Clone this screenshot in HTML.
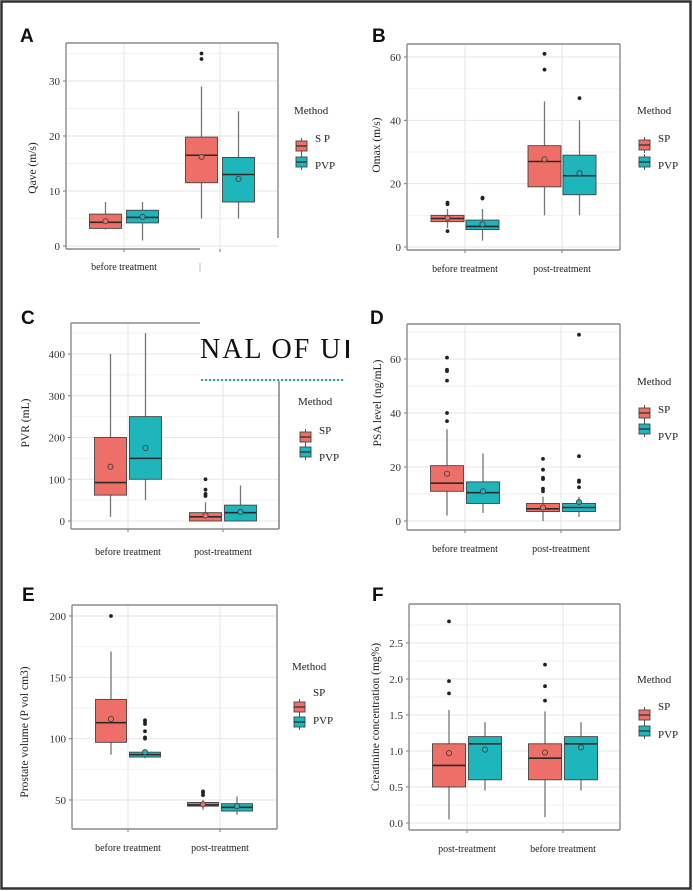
<!DOCTYPE html>
<html><head><meta charset="utf-8">
<style>
html,body{margin:0;padding:0;background:#fff;}
svg{display:block;font-family:"Liberation Serif",serif;}
</style></head>
<body>
<svg id="fig" width="693" height="891" viewBox="0 0 693 891" xmlns="http://www.w3.org/2000/svg">
<rect x="0" y="0" width="693" height="891" fill="#fff"/>
<rect x="1.5" y="1.5" width="689" height="887" fill="none" stroke="#333" stroke-width="2.5"/>
</svg>
<script>
// ---- Data (stats: [lowWhisker, q1, median, q3, highWhisker, mean]) ----
const aCategories = ["before treatment", "post-treatment"];
const aSP = [[3, 3.2, 4.3, 5.8, 8, 4.5], [5, 11.5, 16.5, 19.8, 29, 16.2]];
const aPVP = [[1, 4.2, 5.2, 6.5, 8, 5.3], [5, 8, 13, 16.1, 24.5, 12.2]];
const aSPOut = [[], [34, 35]];
const aPVPOut = [[], []];
const aTicks = [0, 10, 20, 30];

const bCategories = ["before treatment", "post-treatment"];
const bSP = [[6, 8, 9, 10, 12, 9.2], [10, 19, 27, 32, 46, 27.7]];
const bPVP = [[2, 5.5, 6.5, 8.5, 12, 7.2], [10, 16.5, 22.5, 29, 40, 23.3]];
const bSPOut = [[5, 13.5, 14], [56, 61]];
const bPVPOut = [[15.3, 15.6], [47]];
const bTicks = [0, 20, 40, 60];

const cCategories = ["before treatment", "post-treatment"];
const cSP = [[10, 62, 92, 200, 400, 130], [0, 0, 10, 20, 45, 13]];
const cPVP = [[50, 100, 150, 250, 450, 175], [0, 0, 20, 38, 85, 22]];
const cSPOut = [[], [60, 65, 75, 100]];
const cPVPOut = [[], []];
const cTicks = [0, 100, 200, 300, 400];

const dCategories = ["before treatment", "post-treatment"];
const dSP = [[2, 11, 14, 20.5, 34, 17.5], [0, 3.5, 4.5, 6.5, 9, 5]];
const dPVP = [[3, 6.5, 10.5, 14.5, 25, 11], [1.5, 3.5, 5, 6.5, 9, 7]];
const dSPOut = [[37, 40, 52, 55.5, 56, 60.5], [11, 12, 15.5, 16, 19, 23]];
const dPVPOut = [[], [12.5, 14.5, 15, 24, 69]];
const dTicks = [0, 20, 40, 60];

const eCategories = ["before treatment", "post-treatment"];
const eSP = [[87, 97, 113, 132, 171, 116], [42, 45, 46, 48, 50, 46.5]];
const ePVP = [[84, 85, 87, 89, 90, 89], [38, 41, 44, 47, 53, 45]];
const eSPOut = [[200], [54, 56, 57]];
const ePVPOut = [[100, 101, 106, 112, 114, 115], []];
const eTicks = [50, 100, 150, 200];

const fCategories = ["post-treatment", "before treatment"];
const fSP = [[0.05, 0.5, 0.8, 1.1, 1.57, 0.97], [0.08, 0.6, 0.9, 1.1, 1.55, 0.98]];
const fPVP = [[0.45, 0.6, 1.1, 1.2, 1.4, 1.02], [0.45, 0.6, 1.1, 1.2, 1.4, 1.05]];
const fSPOut = [[1.8, 1.97, 2.8], [1.7, 1.9, 2.2]];
const fPVPOut = [[], []];
const fTicks = [0.0, 0.5, 1.0, 1.5, 2.0, 2.5];

const NS = "http://www.w3.org/2000/svg";
const svg = document.getElementById("fig");
const SPC = "#ee6f68", PVPC = "#1eb5bb";

function mk(tag, attrs, parent, text) {
  const e = document.createElementNS(NS, tag);
  for (const k in attrs) e.setAttribute(k, attrs[k]);
  if (text !== undefined) e.textContent = text;
  (parent || svg).appendChild(e);
  return e;
}

function panel(p) {
  const g = mk("g", {});
  
  
  const y = v => p.py0 + (v - p.v0) * (p.py1 - p.py0) / (p.v1 - p.v0);
  const step = p.ticks[1] - p.ticks[0];
  for (let i = -1; i < p.ticks.length + 1; i++) {
    const mv = p.ticks[0] + (i + 0.5) * step;
    const yy = y(mv);
    if (yy > p.top + 1 && yy < p.bottom - 1) mk("line", {x1: p.left, x2: p.right, y1: yy, y2: yy, stroke: "#f2f2f2", "stroke-width": 1}, g);
  }
  p.ticks.forEach(t => {
    const yy = y(t);
    const gl = mk("line", {x1: p.left, x2: p.right, y1: yy, y2: yy, stroke: "#e6e6e6", "stroke-width": 1}, g);
    
    
    mk("line", {x1: p.left - 3, x2: p.left, y1: yy, y2: yy, stroke: "#777", "stroke-width": 1}, g);
    const tl = mk("text", {x: p.left - 6, y: yy + 4, "text-anchor": "end", "font-size": 11, fill: "#333"}, g, p.fmt ? p.fmt(t) : String(t));
    
    
  });
  p.cats.forEach((c, i) => {
    const cx = p.catX[i];
    mk("line", {x1: cx, x2: cx, y1: p.top, y2: p.bottom, stroke: "#e6e6e6", "stroke-width": 1}, g);
    mk("line", {x1: cx, x2: cx, y1: p.bottom, y2: p.bottom + 3, stroke: "#777", "stroke-width": 1}, g);
    if (!(p.hideLabel && p.hideLabel[i])) {
      const xl = mk("text", {x: cx, y: p.xlabY, "text-anchor": "middle", "font-size": 10, fill: "#222"}, g, c);
      
      
    }
  });
  const series = [[p.sp, p.spOut, SPC, -1, "sp"], [p.pvp, p.pvpOut, PVPC, 1, "pvp"]];
  series.forEach(([st, outs, col, sgn, nm]) => {
    st.forEach((s, i) => {
      const cx = p.catX[i] + sgn * p.off, hw = p.bw / 2;
      const bg = mk("g", {}, g);
      
      
      mk("line", {x1: cx, x2: cx, y1: y(s[0]), y2: y(s[4]), stroke: "#777", "stroke-width": 1.3}, bg);
      mk("rect", {x: cx - hw, y: y(s[3]), width: p.bw, height: Math.max(1, y(s[1]) - y(s[3])), fill: col, stroke: "#444", "stroke-width": 0.9}, bg);
      mk("line", {x1: cx - hw, x2: cx + hw, y1: y(s[2]), y2: y(s[2]), stroke: "#2a2a2a", "stroke-width": 1.6}, bg);
      mk("circle", {cx: cx, cy: y(s[5]), r: 2.6, fill: col, stroke: "#444", "stroke-width": 0.9}, bg);
      outs[i].forEach(o => {
        const oc = mk("circle", {cx: cx, cy: y(o), r: 1.9, fill: "#222"}, bg);
        
        
      });
    });
  });
  const fr = p.frame || {};
  const fs = {stroke: "#8a8a8a", "stroke-width": 1.4};
  mk("line", Object.assign({x1: p.left, x2: p.left, y1: p.top, y2: p.bottom}, fs), g);
  mk("line", Object.assign({x1: p.left, x2: p.right, y1: p.top, y2: p.top}, fs), g);
  mk("line", Object.assign({x1: p.right, x2: p.right, y1: fr.rTop || p.top, y2: fr.rBot || p.bottom}, fs), g);
  mk("line", Object.assign({x1: p.left, x2: fr.bRight || p.right, y1: p.bottom, y2: p.bottom}, fs), g);
  const yt = mk("text", {x: p.ytX, y: p.ytY, "text-anchor": "middle", "font-size": 11.5, fill: "#222", transform: `rotate(-90 ${p.ytX} ${p.ytY})`}, g, p.ytitle);
  
  
  const pl = mk("text", {x: p.letX, y: p.letY, "font-size": 19, "font-weight": "bold", "font-family": "Liberation Sans, sans-serif", fill: "#111"}, g, p.id);
  
  
  const lg = mk("g", {}, g);
  
  
  mk("text", {x: p.lg.x, y: p.lg.y, "font-size": 11, fill: "#222"}, lg, "Method");
  [[SPC, p.lg.k1, p.lg.l1, p.lg.spText || "SP"], [PVPC, p.lg.k2, p.lg.l2, "PVP"]].forEach(([col, ky, ly, t]) => {
    const e = mk("g", {}, lg);
    
    
    const kx = p.lg.x + 2;
    mk("line", {x1: kx + 5.5, x2: kx + 5.5, y1: ky - 8, y2: ky + 8, stroke: "#555", "stroke-width": 1}, e);
    mk("rect", {x: kx, y: ky - 5, width: 11, height: 10, fill: col, stroke: "#444", "stroke-width": 0.9}, e);
    mk("line", {x1: kx, x2: kx + 11, y1: ky, y2: ky, stroke: "#2a2a2a", "stroke-width": 1.2}, e);
    mk("text", {x: p.lg.x + 21, y: ly, "font-size": 11, fill: "#222"}, e, t);
  });
}

panel({id: "A", left: 66, right: 278, top: 43, bottom: 249, v0: 0, py0: 246, v1: 30, py1: 81,
  ticks: aTicks, cats: aCategories, catX: [124, 220], off: 18.5, bw: 32, sp: aSP, pvp: aPVP, spOut: aSPOut, pvpOut: aPVPOut,
  xlabY: 270, hideLabel: [false, true], frame: {rTop: 43, rBot: 238, bRight: 200},
  ytitle: "Qave (m/s)", ytX: 36, ytY: 168, letX: 20, letY: 42,
  lg: {x: 294, y: 114, k1: 146, k2: 162, l1: 142, l2: 169, spText: "S P"}});

panel({id: "B", left: 407, right: 620, top: 44, bottom: 250, v0: 0, py0: 247, v1: 60, py1: 57,
  ticks: bTicks, cats: bCategories, catX: [465, 562], off: 17.5, bw: 33, sp: bSP, pvp: bPVP, spOut: bSPOut, pvpOut: bPVPOut,
  xlabY: 272, ytitle: "Omax (m/s)", ytX: 380, ytY: 145, letX: 372, letY: 42,
  lg: {x: 637, y: 114, k1: 145, k2: 162, l1: 142, l2: 169}});

panel({id: "C", left: 71, right: 279, top: 323, bottom: 529, v0: 0, py0: 521, v1: 400, py1: 354,
  ticks: cTicks, cats: cCategories, catX: [128, 223], off: 17.5, bw: 32, sp: cSP, pvp: cPVP, spOut: cSPOut, pvpOut: cPVPOut,
  xlabY: 555, ytitle: "PVR (mL)", ytX: 29, ytY: 423, letX: 21, letY: 324,
  lg: {x: 298, y: 405, k1: 437, k2: 452, l1: 434, l2: 461}});

panel({id: "D", left: 407, right: 620, top: 324, bottom: 530, v0: 0, py0: 521, v1: 60, py1: 359,
  ticks: dTicks, cats: dCategories, catX: [465, 561], off: 18, bw: 33, sp: dSP, pvp: dPVP, spOut: dSPOut, pvpOut: dPVPOut,
  xlabY: 552, ytitle: "PSA level (ng/mL)", ytX: 381, ytY: 403, letX: 370, letY: 324,
  lg: {x: 637, y: 385, k1: 413, k2: 429, l1: 413, l2: 440}});

panel({id: "E", left: 72, right: 277, top: 605, bottom: 829, v0: 50, py0: 800, v1: 200, py1: 616,
  ticks: eTicks, cats: eCategories, catX: [128, 220], off: 17, bw: 31, sp: eSP, pvp: ePVP, spOut: eSPOut, pvpOut: ePVPOut,
  xlabY: 851, ytitle: "Prostate volume (P vol cm3)", ytX: 28, ytY: 732, letX: 22, letY: 601,
  lg: {x: 292, y: 670, k1: 707, k2: 722, l1: 696, l2: 724}});

panel({id: "F", left: 409, right: 620, top: 604, bottom: 830, v0: 0, py0: 823, v1: 2.5, py1: 643,
  ticks: fTicks, cats: fCategories, catX: [467, 563], off: 18, bw: 33, sp: fSP, pvp: fPVP, spOut: fSPOut, pvpOut: fPVPOut,
  xlabY: 852, fmt: t => t.toFixed(1), ytitle: "Creatinine concentration (mg%)", ytX: 379, ytY: 717, letX: 372, letY: 601,
  lg: {x: 637, y: 683, k1: 715, k2: 731, l1: 710, l2: 738}});

const ov = mk("g", {});


mk("rect", {x: 200, y: 322, width: 145, height: 60, fill: "#fff"}, ov);
mk("text", {x: 200, y: 358, "font-size": 28, fill: "#111", "font-family": "Liberation Serif, serif", "letter-spacing": "2"}, ov, "NAL OF U");
mk("line", {x1: 201, x2: 345, y1: 380, y2: 380, stroke: "#1aa9a9", "stroke-width": 2, "stroke-dasharray": "2 2"}, ov);
mk("line", {x1: 279, x2: 279, y1: 381, y2: 529, stroke: "#8a8a8a", "stroke-width": 1.4}, ov);
mk("rect", {x: 346, y: 340, width: 3, height: 18, fill: "#111"}, ov);
mk("line", {x1: 200, x2: 200, y1: 263, y2: 272, stroke: "#bbb", "stroke-width": 1});
</script>
</body></html>
